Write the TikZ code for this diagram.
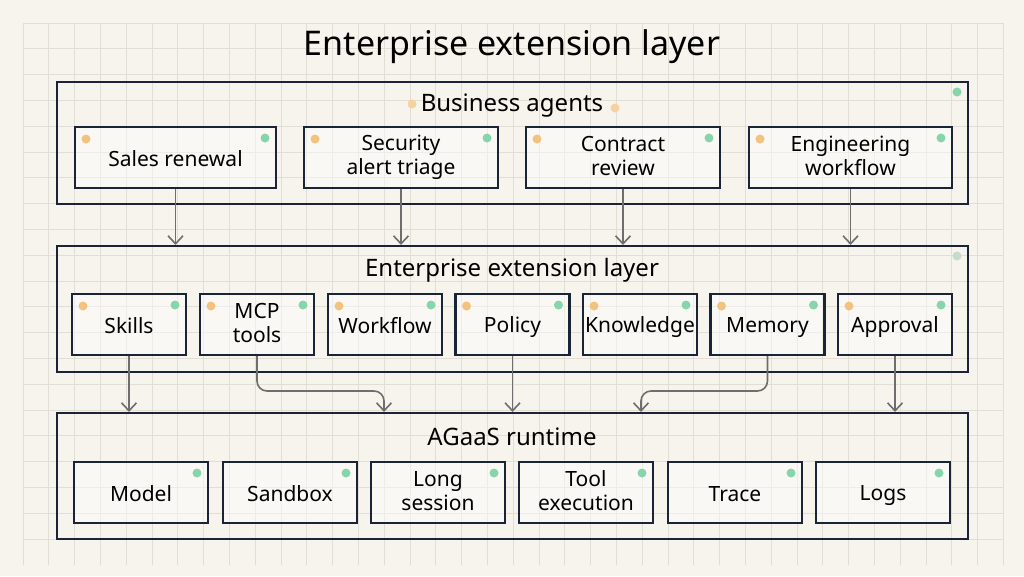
\documentclass[tikz,border=0pt]{standalone}
\usepackage{fontspec}
\setmainfont{Noto Sans}
\usetikzlibrary{arrows.meta}

\definecolor{paper}{HTML}{F6F4ED}
\definecolor{gridgray}{HTML}{E1DED5}
\definecolor{ink}{HTML}{1B2337}
\definecolor{flowgray}{HTML}{6E6E6E}
\definecolor{dotorange}{HTML}{F4C27F}
\definecolor{dotgreen}{HTML}{86D5AC}

\newcommand{\cardstrut}{\rule[-3pt]{0pt}{24pt}}

\begin{document}
\begin{tikzpicture}[x=1pt, y=-1pt, >={Straight Barb[length=8pt,width=15pt]},
    layer/.style={draw=ink, line width=2.1pt, minimum width=911pt},
    layerlabel/.style={font=\fontsize{24}{26}\selectfont},
    card/.style={draw=ink, line width=2.1pt, fill=white, fill opacity=0.45, text opacity=1,
        minimum height=61pt, align=center, inner sep=1pt, font=\fontsize{21}{24}\selectfont,
        execute at begin node=\cardstrut, execute at end node=\cardstrut},
    greendot/.style={path picture={
        \fill[dotgreen, fill opacity=1] ([shift={(-11pt,-11pt)}]path picture bounding box.north east) circle (4.5pt);}},
    twodots/.style={path picture={
        \fill[dotorange, fill opacity=1] ([shift={(11pt,-12pt)}]path picture bounding box.north west) circle (4.5pt);
        \fill[dotgreen, fill opacity=1] ([shift={(-11pt,-11pt)}]path picture bounding box.north east) circle (4.5pt);}},
    flow/.style={->, draw=flowgray, line width=1.6pt, rounded corners=10pt}]

    \useasboundingbox (0,0) rectangle (1024,576);
    \fill[paper] (0,0) rectangle (1024,576);
    \draw[gridgray, line width=0.8pt, shift={(23,23)}, step=25.8pt] (0,0) grid (980.4,541.8);

    \node[font=\fontsize{34}{38}\selectfont] (title) at (512,47) {Enterprise extension layer};

    % layers
    \node[layer, minimum height=122pt] (agents) at (512.5,143) {};
    \node[layer, minimum height=126pt] (extension) at (512.5,309) {};
    \node[layer, minimum height=126pt] (runtime) at (512.5,476) {};

    \node[layerlabel] (agentslabel) at (512,106) {Business agents};
    \node[layerlabel] (extensionlabel) at (512,270) {Enterprise extension layer};
    \node[layerlabel] (runtimelabel) at (512,437) {AGaaS runtime};

    \fill[dotorange!75] (412,104) circle (4.5pt);
    \fill[dotorange!75] (615,108) circle (4.5pt);
    \fill[dotgreen] (957,92) circle (4.5pt);
    \fill[dotgreen!30!gridgray] (957,256) circle (4.5pt);

    % business agents
    \node[card, twodots, minimum width=201pt] (sales) at (175.5,157.5) {Sales renewal};
    \node[card, twodots, minimum width=194pt] (security) at (401,157.5) {Security\\alert triage};
    \node[card, twodots, minimum width=194pt] (contract) at (623,157.5) {Contract\\review};
    \node[card, twodots, minimum width=203pt] (engineering) at (850.5,157.5) {Engineering\\workflow};

    % extension layer
    \node[card, twodots, minimum width=114pt] (skills) at (129,324.5) {Skills};
    \node[card, twodots, minimum width=114pt] (mcp) at (257,324.5) {MCP\\tools};
    \node[card, twodots, minimum width=114pt] (workflow) at (385,324.5) {Workflow};
    \node[card, twodots, minimum width=114pt] (policy) at (512.5,324.5) {Policy};
    \node[card, twodots, minimum width=114pt] (knowledge) at (640,324.5) {Knowledge};
    \node[card, twodots, minimum width=114pt] (memory) at (767.5,324.5) {Memory};
    \node[card, twodots, minimum width=114pt] (approval) at (895,324.5) {Approval};

    % runtime
    \node[card, greendot, minimum width=134pt] (model) at (141,492.5) {Model};
    \node[card, greendot, minimum width=134pt] (sandbox) at (290,492.5) {Sandbox};
    \node[card, greendot, minimum width=134pt] (session) at (438,492.5) {Long\\session};
    \node[card, greendot, minimum width=134pt] (toolexec) at (586,492.5) {Tool\\execution};
    \node[card, greendot, minimum width=134pt] (trace) at (735,492.5) {Trace};
    \node[card, greendot, minimum width=134pt] (logs) at (883,492.5) {Logs};

    % flows
    \draw[flow] (sales.south) -- (sales |- extension.north);
    \draw[flow] (security.south) -- (security |- extension.north);
    \draw[flow] (contract.south) -- (contract |- extension.north);
    \draw[flow] (engineering.south) -- (engineering |- extension.north);

    \coordinate (mcpturn) at (384,391);
    \coordinate (memoryturn) at (641,391);
    \draw[flow] (skills.south) -- (skills |- runtime.north);
    \draw[flow] (mcp.south) |- (mcpturn) -- (mcpturn |- runtime.north);
    \draw[flow] (policy.south) -- (policy |- runtime.north);
    \draw[flow] (memory.south) |- (memoryturn) -- (memoryturn |- runtime.north);
    \draw[flow] (approval.south) -- (approval |- runtime.north);
\end{tikzpicture}
\end{document}
